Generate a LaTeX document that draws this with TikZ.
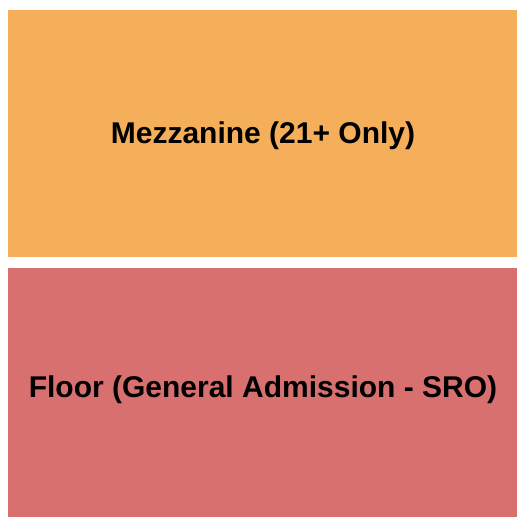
\documentclass[tikz,border=0pt]{standalone}
\usepackage{fontspec}
\setmainfont{Liberation Sans}
\definecolor{mezzcolor}{HTML}{F5AE5A}
\definecolor{floorcolor}{HTML}{D87070}
\begin{document}
\begin{tikzpicture}[x=1pt,y=-1pt,
    sectionlabel/.style={font=\bfseries\fontsize{30}{36}\selectfont,text=black,anchor=base}]
    \useasboundingbox (0,0) rectangle (525,525);
    \fill[mezzcolor]  (8,10)  rectangle (517,257);
    \fill[floorcolor] (8,268) rectangle (517,517);

    \node[sectionlabel] (mezz)  at (263,143) {Mezzanine (21+ Only)};
    \node[sectionlabel] (floor) at (263,397) {Floor (General Admission - SRO)};
\end{tikzpicture}
\end{document}
